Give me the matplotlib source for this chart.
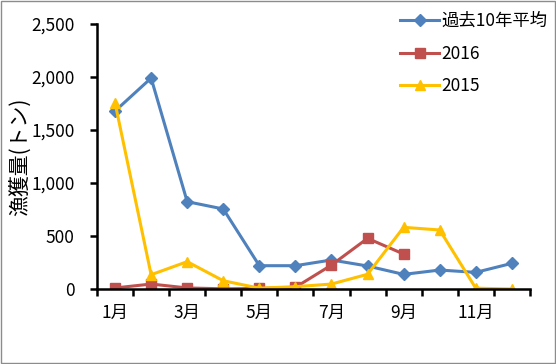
import matplotlib.pyplot as plt
from matplotlib.patches import Rectangle
from matplotlib.ticker import FuncFormatter, FixedLocator

plt.rcParams['font.family'] = ['Noto Sans CJK JP', 'DejaVu Sans']

months = list(range(1, 13))
avg10 = [1679, 1990, 824, 755, 220, 220, 274, 217, 138, 179, 157, 242]
y2016 = [10, 47, 10, 2, 5, 16, 226, 478, 330]
y2015 = [1755, 135, 258, 78, 8, 22, 47, 139, 582, 557, 8, 0]
tick_months = [1, 3, 5, 7, 9, 11]
tick_labels = [f"{m}月" for m in tick_months]

fig = plt.figure(figsize=(5.56, 3.64), dpi=100)
ax = fig.add_axes([0.1745, 0.206, 0.7785, 0.728])

ax.plot(months, avg10, color="#4F81BD", lw=2.2, marker="D", ms=6, label="過去10年平均")
ax.plot(months[:len(y2016)], y2016, color="#C0504D", lw=2.2, marker="s", ms=6.5, label="2016")
ax.plot(months, y2015, color="#FFC000", lw=2.2, marker="^", ms=7.5, label="2015")

ax.set_xlim(0.5, 12.5)
ax.set_ylim(0, 2500)
ax.set_yticks([0, 500, 1000, 1500, 2000, 2500])
ax.yaxis.set_major_formatter(FuncFormatter(lambda v, p: f"{int(v):,}"))
ax.set_xticks(tick_months)
ax.set_xticklabels(tick_labels)
ax.xaxis.set_minor_locator(FixedLocator([m + 0.5 for m in range(0, 13)]))
ax.tick_params(axis="x", which="major", length=0, pad=11, labelsize=12.5)
ax.tick_params(axis="x", which="minor", length=5, width=1.8, direction="out")
ax.tick_params(axis="y", length=5, width=1.8, direction="out", labelsize=12.5, pad=11)

for s in ["top", "right"]:
    ax.spines[s].set_visible(False)
for s in ["left", "bottom"]:
    ax.spines[s].set_linewidth(1.8)

ax.set_ylabel("漁獲量(トン)", fontsize=15, labelpad=0)

ax.legend(loc="upper left", bbox_to_anchor=(0.665, 1.105), frameon=False,
          fontsize=12.5, handlelength=2.2, labelspacing=0.85, handletextpad=0.15)

fig.patches.append(Rectangle((0.001, 0.002), 0.997, 0.995, transform=fig.transFigure,
                             fill=False, ec="#8c8c8c", lw=1))

fig.savefig("out.png", dpi=100)
